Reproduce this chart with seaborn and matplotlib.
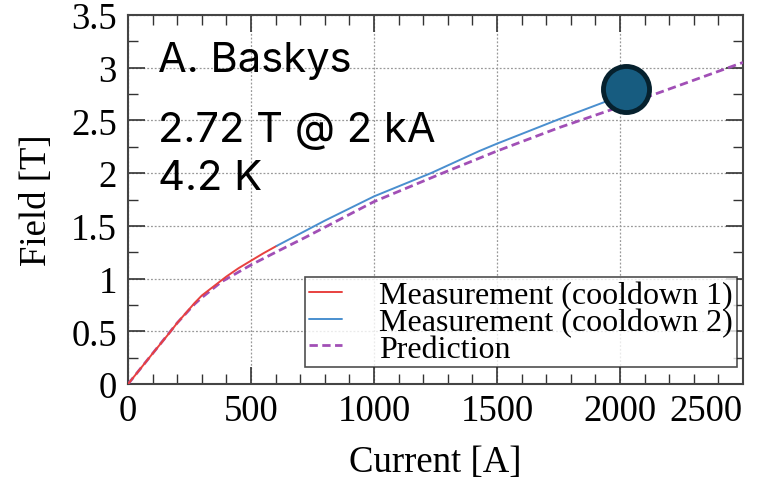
import numpy as np
import pandas as pd
import matplotlib
matplotlib.use("Agg")
import matplotlib.pyplot as plt
from matplotlib.lines import Line2D
from matplotlib.ticker import MultipleLocator
import seaborn as sns

# Cooldown 1 measurement (red)
current_1 = [0, 100, 170, 200, 271, 300, 350, 400, 450, 500, 550, 604]
field_1 = [0, 0.29, 0.49, 0.58, 0.77, 0.84, 0.93, 1.02, 1.10, 1.17, 1.24, 1.31]

# Cooldown 2 measurement (blue)
current_2 = [604, 800, 1000, 1231, 1428, 1500, 1750, 2000]
field_2 = [1.31, 1.55, 1.78, 2.00, 2.21, 2.28, 2.51, 2.73]

# Prediction (dashed)
current_pred = [0, 100, 200, 271, 300, 380, 500, 600, 720, 1000, 1278, 1500, 1750, 2000, 2250, 2500]
field_pred = [0, 0.29, 0.58, 0.76, 0.82, 0.97, 1.13, 1.25, 1.39, 1.73, 2.00, 2.21, 2.43, 2.63, 2.84, 3.05]

# highlighted operating point
dot_current = [2024]
dot_field = [2.795]

labels = ["Measurement (cooldown 1)", "Measurement (cooldown 2)", "Prediction"]
colors = ["#e8413f", "#4a8fcf", "#a14fb6"]

sns.set_style("ticks")
plt.rcParams["font.family"] = ["Liberation Serif", "DejaVu Serif"]
plt.rcParams["text.color"] = "black"
plt.rcParams["axes.labelcolor"] = "black"
plt.rcParams["xtick.labelcolor"] = "black"
plt.rcParams["ytick.labelcolor"] = "black"

fig = plt.figure(figsize=(7.62, 4.85), dpi=100)
ax = fig.add_axes([0.168, 0.206, 0.807, 0.761])

df1 = pd.DataFrame({"I": current_1, "B": field_1})
df2 = pd.DataFrame({"I": current_2, "B": field_2})
dfp = pd.DataFrame({"I": current_pred, "B": field_pred})

dash = (0, (3, 1.6))
sns.lineplot(data=dfp, x="I", y="B", ax=ax, color=colors[2], lw=2.0, linestyle=dash, zorder=3)
sns.lineplot(data=df1, x="I", y="B", ax=ax, color=colors[0], lw=1.4, zorder=4)
sns.lineplot(data=df2, x="I", y="B", ax=ax, color=colors[1], lw=1.4, zorder=4)
ax.scatter(dot_current, dot_field, s=1100, color="#175c80", edgecolor="#06212e",
           linewidth=3.5, zorder=6, clip_on=False)

ax.set_xlim(0, 2500)
ax.set_ylim(0, 3.5)
ax.xaxis.set_minor_locator(MultipleLocator(100))
ax.yaxis.set_minor_locator(MultipleLocator(0.25))
ax.set_yticks(np.arange(0, 3.51, 0.5))
ax.set_yticklabels(["0", "0.5", "1", "1.5", "2", "2.5", "3", "3.5"])
ax.set_xticks([0, 500, 1000, 1500, 2000, 2500])
ax.set_xticklabels(["0", "500", "1000", "1500", "2000", "2500"])
ax.get_xticklabels()[-1].set_ha("right")

ax.tick_params(which="both", direction="in", top=True, right=True, labelsize=26.5, color="#333333")
ax.tick_params(axis="y", pad=8)
ax.tick_params(axis="x", pad=7)
ax.tick_params(which="major", length=12, width=1.2)
ax.tick_params(which="minor", length=7, width=1.0)
ax.grid(True, which="major", linestyle=(0, (1.5, 1.5)), color="#999999", lw=0.9)
for s in ax.spines.values():
    s.set_color("#444444")
    s.set_linewidth(1.5)

ax.set_xlabel("Current [A]", fontsize=26.5, labelpad=12)
ax.set_ylabel("Field [T]", fontsize=26.5, labelpad=12)

handles = [Line2D([], [], color=colors[0], lw=1.4),
           Line2D([], [], color=colors[1], lw=1.4),
           Line2D([], [], color=colors[2], lw=2.0, linestyle=dash)]
leg = ax.legend(handles, labels, loc="lower right", bbox_to_anchor=(0.99, 0.045), fontsize=23,
                frameon=True, fancybox=False, handlelength=1.05, handletextpad=1.15,
                labelspacing=-0.08, borderpad=0.12, borderaxespad=0)
leg.get_frame().set_edgecolor("#222222")
leg.get_frame().set_linewidth(1.2)

annot_font = ["Inter", "DejaVu Sans"]
fig.text(158 / 762, 1 - 72 / 485, "A. Baskys", fontsize=30, family=annot_font, va="baseline")
fig.text(158 / 762, 1 - 142 / 485, "2.72 T @ 2 kA", fontsize=30, family=annot_font, va="baseline")
fig.text(158 / 762, 1 - 190 / 485, "4.2 K", fontsize=30, family=annot_font, va="baseline")

fig.savefig("out.png", dpi=100)
